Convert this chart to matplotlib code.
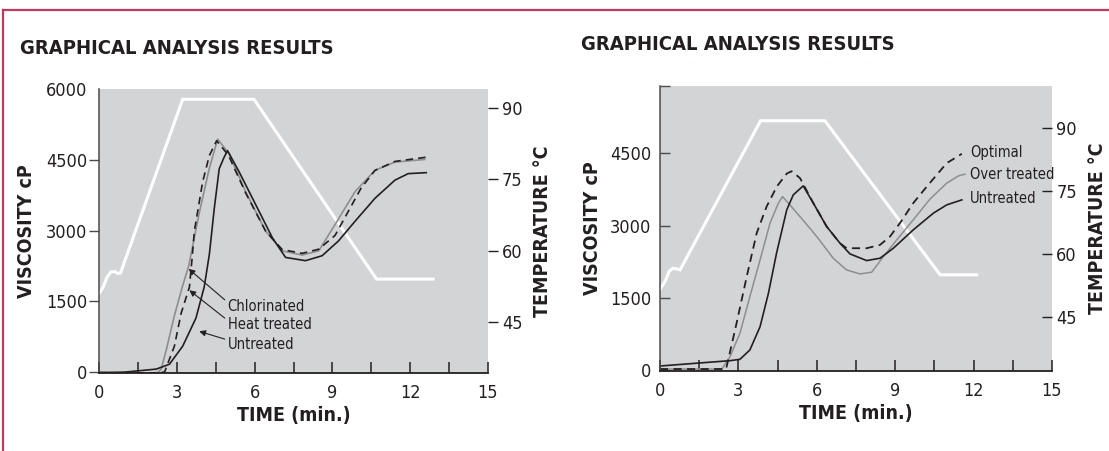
import matplotlib
matplotlib.use("Agg")
import matplotlib.pyplot as plt
from matplotlib.lines import Line2D

plt.rcParams['font.family'] = ['DejaVu Sans']
plt.rcParams['font.stretch'] = 'condensed'

# -----------------------------
# Data: left panel
# -----------------------------
temp_time_L = [0, 0.15, 0.3, 0.45, 0.6, 0.7, 0.82, 3.22, 5.97, 10.7, 12.88]
temp_L = [51.0, 52.3, 54.4, 55.5, 55.6, 55.2, 55.3, 91.9, 91.9, 54.0, 54.0]

chlor_time = [0, 1.0, 2.0, 2.2, 2.39, 2.6, 2.9, 3.2, 3.45, 3.86, 4.25, 4.57, 5.01,
              5.65, 6.42, 7.06, 7.83, 8.47, 9.1, 9.87, 10.64, 11.41, 12.56]
chlor_visc = [0, -20, -50, -40, 63, 500, 1200, 1800, 2250, 3380, 4330, 4944, 4630,
              3828, 2992, 2573, 2483, 2573, 3132, 3828, 4282, 4456, 4512]

heat_time = [0, 1.0, 2.0, 2.52, 2.9, 3.16, 3.48, 3.58, 3.67, 3.99, 4.25, 4.53,
             4.99, 5.65, 6.42, 7.06, 7.83, 8.47, 9.1, 9.6, 10.1, 10.64, 11.41, 12.62]
heat_visc = [-10, -20, -20, 0, 550, 1249, 1805, 2400, 2992, 4038, 4596, 4910,
             4596, 3800, 2992, 2600, 2519, 2608, 2900, 3400, 3900, 4280, 4470, 4560]

untr_time_L = [0, 1.0, 2.2, 2.71, 3.22, 3.73, 4.05, 4.25, 4.44, 4.63, 4.82, 4.95,
               5.4, 6.04, 6.68, 7.19, 7.96, 8.6, 9.23, 9.87, 10.64, 11.41, 11.92, 12.62]
untr_visc_L = [-15, 0, 63, 167, 550, 1144, 1805, 2503, 3479, 4316, 4561, 4700,
               4247, 3550, 2851, 2433, 2364, 2469, 2782, 3200, 3688, 4073, 4211, 4232]

labels_L = ["Chlorinated", "Heat treated", "Untreated"]
label_pos_L = [(4.95, 1387), (4.95, 1004), (4.95, 586)]
arrow_tip_L = [(3.45, 2190), (3.48, 1736), (3.86, 864)]

# -----------------------------
# Data: right panel
# -----------------------------
temp_time_R = [0, 0.2, 0.35, 0.5, 0.65, 0.77, 3.85, 6.31, 10.72, 12.12]
temp_R = [51.5, 53.5, 55.8, 56.6, 56.4, 56.2, 91.8, 91.8, 55.0, 55.0]

opt_time = [0, 1.0, 2.0, 2.53, 2.93, 3.32, 3.7, 4.08, 4.47, 4.85, 5.04, 5.36,
            5.87, 6.38, 6.89, 7.14, 7.91, 8.42, 8.8, 9.18, 9.69, 10.21, 10.97, 11.55]
opt_visc = [20, 20, 20, 20, 970, 1940, 2842, 3395, 3811, 4080, 4130, 3985,
            3465, 2979, 2633, 2530, 2530, 2599, 2772, 3050, 3466, 3811, 4297, 4491]

over_time = [0, 1.0, 2.0, 2.37, 2.68, 3.06, 3.44, 3.83, 4.21, 4.53, 4.69, 5.36,
             6.0, 6.63, 7.14, 7.65, 8.1, 8.55, 9.06, 9.69, 10.33, 10.97, 11.42, 11.67]
over_visc = [20, 20, 20, 20, 277, 763, 1524, 2287, 3050, 3466, 3603, 3187,
             2772, 2322, 2079, 1996, 2031, 2356, 2703, 3119, 3550, 3881, 4033, 4068]

untr_time_R = [0, 2.68, 3.06, 3.44, 3.83, 4.15, 4.46, 4.85, 5.1, 5.48, 5.87, 6.38,
               6.89, 7.27, 7.91, 8.42, 8.93, 9.69, 10.46, 10.97, 11.55]
untr_visc_R = [83, 194, 222, 416, 900, 1594, 2426, 3326, 3638, 3825, 3465, 2979,
               2633, 2412, 2273, 2322, 2530, 2911, 3258, 3430, 3534]

labels_R = ["Optimal", "Over treated", "Untreated"]
label_pos_R = [(11.86, 4518), (11.86, 4054), (11.86, 3570)]

# -----------------------------
# Style
# -----------------------------
BG = "#d3d4d6"
INK = "#231f20"
GREY = "#8e8e8e"
BORDER = "#c0395f"
TICK_FS = 13
LABEL_FS = 14
NOTE_FS = 10.5

fig = plt.figure(figsize=(11.09, 4.51), dpi=100)
fig.patch.set_facecolor("white")

# page border (top and left)
fig.add_artist(Line2D([3 / 1109, 1], [1 - 10 / 451, 1 - 10 / 451], color=BORDER, lw=1.6))
fig.add_artist(Line2D([3 / 1109, 3 / 1109], [0, 1 - 10 / 451], color=BORDER, lw=1.6))


def setup_panel(rect, vlim, tlim, ylab_x, tlab_x, vdir, tdir, vticks, top_tick):
    ax = fig.add_axes(rect)
    axt = ax.twinx()
    ax.set_zorder(axt.get_zorder() + 1)
    ax.patch.set_visible(False)
    axt.patch.set_visible(True)
    axt.patch.set_facecolor(BG)

    ax.set_xlim(0, 15)
    ax.set_ylim(*vlim)
    axt.set_ylim(*tlim)

    for s in ["top", "right"]:
        ax.spines[s].set_visible(False)
    ax.spines["left"].set_color("#4a4a4a")
    ax.spines["bottom"].set_color(INK)
    ax.spines["left"].set_linewidth(1.1)
    ax.spines["bottom"].set_linewidth(1.3)
    for s in axt.spines.values():
        s.set_visible(False)

    ax.set_xticks([0, 3, 6, 9, 12, 15])
    ax.set_xticks([1.5, 4.5, 7.5, 10.5, 13.5], minor=True)
    ax.set_yticks(vticks)
    ax.set_yticks([top_tick], minor=True)
    ax.tick_params(axis="x", which="both", direction="in", length=8, width=1.1,
                   color=INK, labelsize=TICK_FS, labelcolor=INK, pad=8)
    ax.tick_params(axis="y", which="major", direction=vdir, length=7, width=1.0,
                   color="#4a4a4a", labelsize=TICK_FS, labelcolor=INK,
                   pad=1.5 if vdir == "out" else 6)
    ax.tick_params(axis="y", which="minor", direction="in", length=7, width=1.0, color="#4a4a4a")

    axt.set_yticks([45, 60, 75, 90])
    axt.tick_params(axis="y", direction=tdir, length=7, width=1.0, color=INK,
                    labelsize=TICK_FS, labelcolor=INK, pad=3)

    ax.set_xlabel("TIME (min.)", fontsize=LABEL_FS, fontweight="bold", color=INK, labelpad=3)
    ax.set_ylabel("VISCOSITY cP", fontsize=LABEL_FS, fontweight="bold", color=INK)
    axt.set_ylabel("TEMPERATURE °C", fontsize=LABEL_FS, fontweight="bold", color=INK)
    ax.yaxis.set_label_coords(ylab_x, 0.5)
    axt.yaxis.set_label_coords(tlab_x, 0.5)
    return ax, axt


# -----------------------------
# Left panel
# -----------------------------
axL, axLt = setup_panel([0.0895, 0.1729, 0.3505, 0.629], (-20, 6000), (34.2, 94.0),
                        -0.163, 1.116, "out", "out", [0, 1500, 3000, 4500, 6000], 6000)
axL.yaxis.get_major_ticks()[-1].tick1line.set_visible(False)

axLt.plot(temp_time_L, temp_L, color="white", lw=2.2, solid_joinstyle="miter")
axL.plot(chlor_time, chlor_visc, color=GREY, lw=1.2)
axL.plot(heat_time, heat_visc, color=INK, lw=1.2, linestyle=(0, (4.5, 3)))
axL.plot(untr_time_L, untr_visc_L, color=INK, lw=1.2)

for txt, pos, tip in zip(labels_L, label_pos_L, arrow_tip_L):
    axL.annotate(txt, xy=tip, xytext=pos, fontsize=NOTE_FS, color=INK,
                 ha="left", va="center",
                 arrowprops=dict(arrowstyle="-|>", color=INK, lw=0.8,
                                 mutation_scale=9, shrinkA=0, shrinkB=0,
                                 relpos=(0, 0.8)))

fig.text(20 / 1109, 1 - 49 / 451, "GRAPHICAL ANALYSIS RESULTS", fontsize=14.5,
         fontweight="bold", color=INK, ha="left", va="center")

# -----------------------------
# Right panel
# -----------------------------
axR, axRt = setup_panel([0.5951, 0.178, 0.3535, 0.6313], (-15, 5900), (32.1, 100.1),
                        -0.149, 1.092, "in", "in", [0, 1500, 3000, 4500], 5900)

axRt.plot(temp_time_R, temp_R, color="white", lw=2.2, solid_joinstyle="miter")
axR.plot(over_time, over_visc, color=GREY, lw=1.1)
axR.plot(opt_time, opt_visc, color=INK, lw=1.3, linestyle=(0, (4.5, 3)))
axR.plot(untr_time_R, untr_visc_R, color=INK, lw=1.2)

for txt, pos in zip(labels_R, label_pos_R):
    axR.text(pos[0], pos[1], txt, fontsize=NOTE_FS, color=INK, ha="left", va="center")

fig.text(581 / 1109, 1 - 45 / 451, "GRAPHICAL ANALYSIS RESULTS", fontsize=14.5,
         fontweight="bold", color=INK, ha="left", va="center")

plt.savefig("out.png", dpi=100)
